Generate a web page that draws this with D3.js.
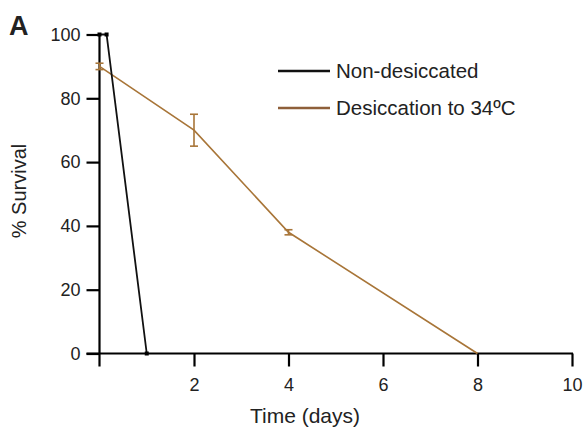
<!DOCTYPE html>
<meta charset="utf-8">
<style>
body { margin: 0; background: #fff; }
text { font-family: "Liberation Sans", Arial, Helvetica, sans-serif; fill: #222; }
</style>
<body>
<div id="chart"></div>
<script src="https://d3js.org/d3.v7.min.js"></script>
<script>
// data
var nonDesiccated = [
  {t: 0, s: 100},
  {t: 0.15, s: 100},
  {t: 1, s: 0}
];
var desiccated = [
  {t: 0, s: 90, err: 1},
  {t: 2, s: 70, err: 5},
  {t: 4, s: 38, err: 0.8},
  {t: 8, s: 0, err: 0}
];
var xTicks = [2, 4, 6, 8, 10];
var yTicks = [0, 20, 40, 60, 80, 100];
var seriesNames = ["Non-desiccated", "Desiccation to 34\u00baC"];
var brown = "#a87538";

var width = 588, height = 436;
var svg = d3.select("#chart").append("svg")
    .attr("width", width)
    .attr("height", height);

var x = d3.scaleLinear().domain([0, 10]).range([99.5, 572]);
var y = d3.scaleLinear().domain([0, 100]).range([353.5, 34.5]);

// y axis
var yAxis = svg.append("g")
    .attr("transform", "translate(" + x(0) + ",0)")
    .call(d3.axisLeft(y).tickValues(yTicks).tickSize(13).tickPadding(6).tickSizeOuter(0));
yAxis.select(".domain").remove();
yAxis.append("line")
    .attr("x1", 0).attr("x2", 0)
    .attr("y1", y(100) - 1).attr("y2", y(0) + 13)
    .attr("stroke", "#000").attr("stroke-width", 2.2);
yAxis.selectAll(".tick line").attr("stroke", "#000").attr("stroke-width", 2.2);
yAxis.selectAll(".tick text").style("font-size", "18px").attr("fill", "#222");

// x axis
var xAxis = svg.append("g")
    .attr("transform", "translate(0," + y(0) + ")")
    .call(d3.axisBottom(x).tickValues(xTicks).tickSize(13).tickPadding(12).tickSizeOuter(0));
xAxis.select(".domain").remove();
xAxis.append("line")
    .attr("x1", x(0) - 13).attr("x2", x(10) + 1)
    .attr("y1", 0).attr("y2", 0)
    .attr("stroke", "#000").attr("stroke-width", 2.2);
xAxis.selectAll(".tick line").attr("stroke", "#000").attr("stroke-width", 2.2);
xAxis.selectAll(".tick text").style("font-size", "18px").attr("fill", "#222");

var line = d3.line()
    .x(function(d) { return x(d.t); })
    .y(function(d) { return y(d.s); });

// brown series with error bars
svg.append("path")
    .datum(desiccated)
    .attr("fill", "none")
    .attr("stroke", brown)
    .attr("stroke-width", 1.6)
    .attr("d", line);

var eb = svg.selectAll(".eb")
    .data(desiccated.filter(function(d) { return d.err > 0; }))
    .enter().append("g").attr("class", "eb")
    .attr("stroke", brown).attr("stroke-width", 1.6);
eb.append("line")
    .attr("x1", function(d) { return x(d.t); })
    .attr("x2", function(d) { return x(d.t); })
    .attr("y1", function(d) { return y(d.s + d.err); })
    .attr("y2", function(d) { return y(d.s - d.err); });
eb.append("line")
    .attr("x1", function(d) { return x(d.t) - 4; })
    .attr("x2", function(d) { return x(d.t) + 4; })
    .attr("y1", function(d) { return y(d.s + d.err); })
    .attr("y2", function(d) { return y(d.s + d.err); });
eb.append("line")
    .attr("x1", function(d) { return x(d.t) - 4; })
    .attr("x2", function(d) { return x(d.t) + 4; })
    .attr("y1", function(d) { return y(d.s - d.err); })
    .attr("y2", function(d) { return y(d.s - d.err); });

// black series
svg.append("path")
    .datum(nonDesiccated)
    .attr("fill", "none")
    .attr("stroke", "#111")
    .attr("stroke-width", 1.8)
    .attr("d", line);
svg.selectAll(".sq")
    .data(nonDesiccated)
    .enter().append("rect")
    .attr("x", function(d) { return x(d.t) - 2; })
    .attr("y", function(d) { return y(d.s) - 2; })
    .attr("width", 4).attr("height", 4)
    .attr("fill", "#000");

// legend
var legendColors = ["#111", "#8e5f3a"];
var lg = svg.selectAll(".lg")
    .data(seriesNames)
    .enter().append("g").attr("class", "lg")
    .attr("transform", function(d, i) { return "translate(278," + (71 + i * 37) + ")"; });
lg.append("line")
    .attr("x1", 0).attr("x2", 52)
    .attr("stroke", function(d, i) { return legendColors[i]; })
    .attr("stroke-width", 2.5);
lg.append("text")
    .attr("x", 58).attr("y", 7)
    .style("font-size", "20.5px")
    .text(function(d) { return d; });

// titles
svg.append("text")
    .attr("x", 305).attr("y", 423)
    .attr("text-anchor", "middle")
    .style("font-size", "21px")
    .text("Time (days)");
svg.append("text")
    .attr("transform", "translate(26,191) rotate(-90)")
    .attr("text-anchor", "middle")
    .style("font-size", "20px")
    .text("% Survival");
svg.append("text")
    .attr("x", 9).attr("y", 35)
    .style("font-size", "27px")
    .style("font-weight", "bold")
    .attr("fill", "#111")
    .text("A");
</script>
</body>
